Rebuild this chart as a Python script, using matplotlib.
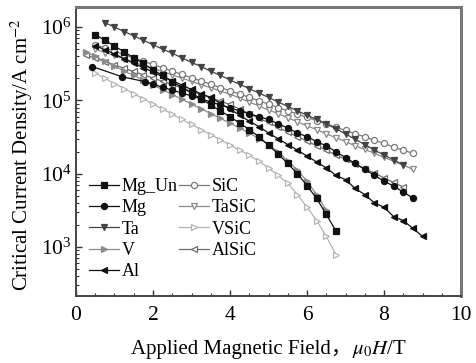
import matplotlib
matplotlib.use("Agg")
import matplotlib.pyplot as plt
from matplotlib.ticker import MultipleLocator, LogLocator

nan = float("nan")

# applied field (T) shared by most samples
FIELD = [0.25, 0.5, 0.75, 1.0, 1.25, 1.5, 1.75, 2.0, 2.25, 2.5, 2.75, 3.0,
         3.25, 3.5, 3.75, 4.0, 4.25, 4.5, 4.75, 5.0, 5.25, 5.5, 5.75, 6.0,
         6.25, 6.5, 6.75, 7.0, 7.25, 7.5, 7.75, 8.0, 8.25, 8.5, 8.75, 9.0]
# the Mg sample was measured with a coarser start
MG_FIELD = [0.42, 1.2, 1.8, 2.0, 2.25, 2.5, 2.75, 3.0, 3.25, 3.5, 3.75, 4.0,
            4.25, 4.5, 4.75, 5.0, 5.25, 5.5, 5.75, 6.0, 6.25, 6.5, 6.75, 7.0,
            7.25, 7.5, 7.75, 8.0, 8.25, 8.5, 8.75]

# critical current density, A/cm^2
mg_un = [nan, 7.9e5, 6.6e5, 5.5e5, 4.6e5, 3.8e5, 3.2e5, 2.6e5, 2.2e5, 1.8e5,
         1.5e5, 1.26e5, 1.05e5, 8.7e4, 7.2e4, 6.0e4, 4.9e4, 4.0e4, 3.2e4,
         2.45e4, 1.86e4, 1.38e4, 1.0e4, 6.9e3, 4.6e3, 2.8e3, 1.66e3]
mg = [2.9e5, 2.1e5, 1.8e5, 1.66e5, 1.51e5, 1.38e5, 1.26e5, 1.15e5, 1.05e5,
      9.5e4, 8.7e4, 7.9e4, 7.2e4, 6.6e4, 6.0e4, 5.5e4, 4.8e4, 4.2e4, 3.6e4,
      3.2e4, 2.75e4, 2.4e4, 2.0e4, 1.66e4, 1.38e4, 1.15e4, 9.5e3, 7.9e3,
      6.8e3, 5.6e3, 4.7e3]
ta = [nan, nan, 1.15e6, 1.0e6, 8.7e5, 7.6e5, 6.6e5, 5.75e5, 5.0e5, 4.4e5,
      3.8e5, 3.3e5, 2.9e5, 2.5e5, 2.2e5, 1.9e5, 1.66e5, 1.45e5, 1.26e5, 1.1e5,
      9.5e4, 8.3e4, 7.2e4, 6.3e4, 5.5e4, 4.8e4, 4.1e4, 3.5e4, 2.95e4, 2.5e4,
      2.1e4, 1.8e4, 1.55e4, 1.32e4]
v = [4.6e5, 4.0e5, 3.4e5, 2.95e5, 2.5e5, 2.2e5, 1.88e5, 1.62e5, 1.40e5,
     1.20e5, 1.04e5, 8.9e4, 7.7e4, 6.6e4, 5.7e4, 4.9e4, 4.2e4, 3.6e4, 3.0e4,
     2.5e4, 2.0e4, 1.5e4, 1.12e4, 7.9e3, 5.2e3, 3.2e3]
al = [nan, 5.6e5, 4.9e5, 4.3e5, 3.7e5, 3.2e5, 2.8e5, 2.45e5, 2.1e5, 1.86e5,
      1.62e5, 1.41e5, 1.23e5, 1.10e5, 9.1e4, 7.6e4, 6.3e4, 5.2e4, 4.4e4,
      3.6e4, 3.0e4, 2.5e4, 2.1e4, 1.74e4, 1.45e4, 1.2e4, 9.5e3, 8.3e3, 6.3e3,
      5.2e3, 4.0e3, 3.5e3, 2.6e3, 2.3e3, 1.8e3, 1.4e3]
sic = [nan, 5.75e5, 5.19e5, 4.68e5, 4.22e5, 3.8e5, 3.43e5, 3.09e5, 2.79e5,
       2.51e5, 2.26e5, 2.04e5, 1.84e5, 1.66e5, 1.5e5, 1.35e5, 1.22e5, 1.1e5,
       9.9e4, 8.9e4, 8.0e4, 7.2e4, 6.5e4, 5.9e4, 5.3e4, 4.8e4, 4.3e4, 3.9e4,
       3.5e4, 3.2e4, 2.85e4, 2.6e4, 2.3e4, 2.1e4, 1.9e4]
tasic = [nan, 5.0e5, 4.5e5, 4.1e5, 3.7e5, 3.34e5, 3.0e5, 2.73e5, 2.47e5,
         2.23e5, 2.01e5, 1.82e5, 1.64e5, 1.49e5, 1.34e5, 1.22e5, 1.08e5, 9.5e4,
         8.4e4, 7.4e4, 6.6e4, 5.8e4, 5.1e4, 4.5e4, 4.0e4, 3.5e4, 3.1e4, 2.75e4,
         2.4e4, 2.15e4, 1.9e4, 1.67e4, 1.48e4, 1.31e4, 1.15e4]
vsic = [nan, 2.35e5, 2.0e5, 1.7e5, 1.45e5, 1.23e5, 1.05e5, 8.9e4, 7.6e4,
        6.5e4, 5.5e4, 4.7e4, 4.0e4, 3.4e4, 2.9e4, 2.45e4, 2.1e4, 1.78e4,
        1.48e4, 1.2e4, 9.5e3, 7.4e3, 5.2e3, 3.5e3, 2.3e3, 1.4e3, 7.9e2]
alsic = [4.17e5, 3.76e5, 3.39e5, 3.05e5, 2.75e5, 2.48e5, 2.24e5, 2.02e5,
         1.82e5, 1.64e5, 1.48e5, 1.33e5, 1.2e5, 1.08e5, 9.8e4, 8.8e4, 7.6e4,
         6.6e4, 5.7e4, 5.0e4, 4.3e4, 3.7e4, 3.2e4, 2.8e4, 2.4e4, 2.1e4, 1.8e4,
         1.57e4, 1.36e4, 1.17e4, 1.02e4, 8.8e3, 7.6e3, 6.6e3]

plt.rcParams["font.family"] = ["Liberation Serif", "Noto Sans CJK SC"]
plt.rcParams["mathtext.fontset"] = "stix"

fig = plt.figure(figsize=(4.77, 3.63), dpi=100)
ax = fig.add_axes([76 / 477, 67 / 363, 385 / 477, 289 / 363])

# (label, x, y, marker, line colour, face colour)
series = [
    ("Mg_Un", FIELD, mg_un, "s", "#111111", "#111111"),
    ("Mg", MG_FIELD, mg, "o", "#111111", "#111111"),
    ("Ta", FIELD, ta, "v", "#444444", "#444444"),
    ("V", FIELD, v, ">", "#8c8c8c", "#8c8c8c"),
    ("Al", FIELD, al, "<", "#111111", "#111111"),
    ("SiC", FIELD, sic, "o", "#7a7a7a", "white"),
    ("TaSiC", FIELD, tasic, "v", "#8a8a8a", "white"),
    ("VSiC", FIELD, vsic, ">", "#b4b4b4", "white"),
    ("AlSiC", FIELD, alsic, "<", "#6e6e6e", "white"),
]

handles = []
for name, xs, ys, mk, col, fc in reversed(series):
    ln, = ax.plot(xs[:len(ys)], ys, marker=mk, color=col, mfc=fc, mec=col,
                  ms=4.4, lw=0.9, mew=0.9, label=name)
    handles.append(ln)
handles = handles[::-1]

ax.set_yscale("log")
ax.set_xlim(0, 10)
ax.set_ylim(215, 1.88e6)
ax.xaxis.set_major_locator(MultipleLocator(2))
ax.xaxis.set_minor_locator(MultipleLocator(0.5))
ax.yaxis.set_major_locator(LogLocator(base=10, numticks=10))
ax.yaxis.set_minor_locator(LogLocator(base=10, subs=range(2, 10), numticks=20))
ax.tick_params(which="both", direction="in", top=False, right=False,
               labelsize=15.5, colors="#333333", labelcolor="black")
ax.tick_params(which="major", length=4, width=1)
ax.tick_params(which="minor", length=2.5, width=0.8)
ax.tick_params(axis="x", pad=7)
ax.tick_params(axis="y", pad=3)

for side in ["left", "bottom"]:
    ax.spines[side].set_color("#444444")
    ax.spines[side].set_linewidth(1.4)
for side in ["top", "right"]:
    ax.spines[side].set_color("#777777")
    ax.spines[side].set_linewidth(2.2)

ax.legend(handles=handles, ncol=2, loc="upper left",
          bbox_to_anchor=(0.034, 0.408), frameon=False, fontsize=13,
          handlelength=1.65, handletextpad=0.15, columnspacing=0.1,
          labelspacing=0.24, borderpad=0, borderaxespad=0, numpoints=1)

fig.text(22 / 477, 0.575, "Critical Current Density/A cm$^{-2}$",
         rotation=90, ha="center", va="center", fontsize=15)
fig.text(352 / 477, 9 / 363, "Applied Magnetic Field，", ha="right",
         va="baseline", fontsize=15)
fig.text(352 / 477, 9 / 363, r"$\mu_0H$/T", ha="left", va="baseline",
         fontsize=15)

fig.savefig("out.png", dpi=100)
